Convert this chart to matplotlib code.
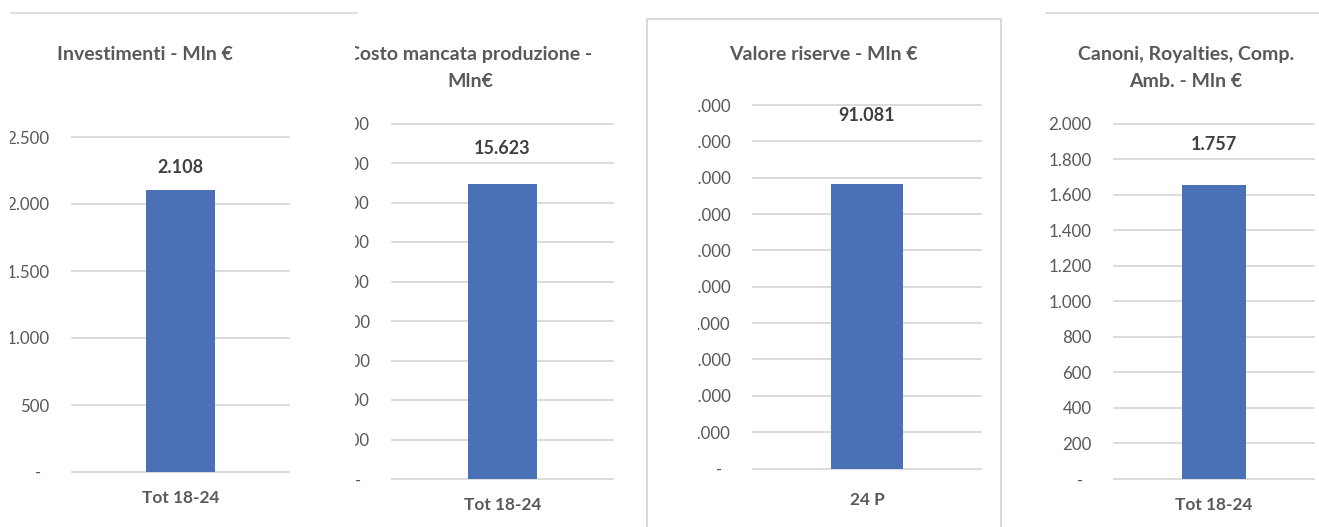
import matplotlib
matplotlib.use("Agg")
import matplotlib.pyplot as plt
from matplotlib.transforms import Bbox, TransformedBbox
from matplotlib.lines import Line2D
from matplotlib.patches import Rectangle

W, H = 1319, 527

# Dati dei quattro grafici
titles = [
    "Investimenti - Mln €",
    "Costo mancata produzione -\nMln€",
    "Valore riserve - Mln €",
    "Canoni, Royalties, Comp.\nAmb. - Mln €",
]
categories = ["Tot 18-24", "Tot 18-24", "24 P", "Tot 18-24"]
bar_values = [2108, 14940, 78270, 1655]
label_values = [2108, 15623, 91081, 1757]
y_max = [2500, 18000, 100000, 2000]
y_step = [500, 2000, 10000, 200]

# Posizioni in pixel: (sinistra, alto, destra, basso) dell'area grafico
axes_px = [(72, 137, 289, 472), (392, 123.5, 613, 479),
           (753, 105, 981, 468.5), (1114, 123.5, 1314, 479)]
title_px = [(145, 55), (470, 68), (823, 55), (1186, 68)]
clip_left = [10, 355, 698, 1000]
xlabel_pad = [13, 13, 17, 13]

BAR = "#4a71b5"
GRID = "#d9d9d9"
TXT = "#595959"
FONT = "Lato"


def fmt(v):
    # Formato contabile italiano
    if v == 0:
        return "-  "
    return f"{v:,.0f}".replace(",", ".")


def fig_rect(l, t, r, b):
    return [l / W, 1 - b / H, (r - l) / W, (b - t) / H]


fig = plt.figure(figsize=(W / 100, H / 100), dpi=100)
fig.patch.set_facecolor("white")

# Bordi dei pannelli
fig.add_artist(Line2D([11 / W, 357 / W], [1 - 12.5 / H] * 2, color=GRID, lw=1.2))
fig.add_artist(Line2D([1046 / W, 1], [1 - 12.5 / H] * 2, color=GRID, lw=1.2))
fig.add_artist(Rectangle((647 / W, -0.05), (1001 - 647) / W, 1.05 - 19 / H,
                         transform=fig.transFigure, fill=False,
                         edgecolor=GRID, lw=1.5))

for i in range(4):
    ax = fig.add_axes(fig_rect(*axes_px[i]))
    ax.bar([categories[i]], [bar_values[i]], width=0.316, color=BAR, zorder=3)
    ax.set_xlim(-0.5, 0.5)
    ax.set_ylim(0, y_max[i])

    ticks = list(range(0, y_max[i] + 1, y_step[i]))
    ax.set_yticks(ticks)
    ax.set_yticklabels([fmt(t) for t in ticks], fontsize=12.2,
                       color=TXT, family=FONT)
    ax.tick_params(axis="y", length=0, pad=16)
    ax.tick_params(axis="x", length=0, pad=xlabel_pad[i])
    for lbl in ax.get_xticklabels():
        lbl.set_fontsize(12.4)
        lbl.set_fontweight("bold")
        lbl.set_color(TXT)
        lbl.set_family(FONT)

    ax.grid(axis="y", color=GRID, lw=1.3, zorder=0)
    ax.set_axisbelow(True)
    for line in ax.get_ygridlines():
        line.set_clip_on(False)
    for s in ax.spines.values():
        s.set_visible(False)
    ax.patch.set_alpha(0)

    # Ritaglio delle etichette tagliate nello screenshot
    clip = TransformedBbox(Bbox([[clip_left[i] / W, 0], [1, 1]]), fig.transFigure)
    for lbl in ax.get_yticklabels():
        lbl.set_clip_box(clip)
        lbl.set_clip_on(True)

    # Etichetta del valore
    ax.annotate(fmt(label_values[i]), (0, label_values[i]), xytext=(0, 22),
                textcoords="offset pixels", ha="center", va="center",
                fontsize=13, fontweight="bold", color="#404040",
                family=FONT, annotation_clip=False)

    t = fig.text(title_px[i][0] / W, 1 - title_px[i][1] / H, titles[i],
                 ha="center", va="center", fontsize=14, fontweight="bold",
                 color=TXT, family=FONT, linespacing=1.7)
    t.set_clip_box(clip)
    t.set_clip_on(True)

fig.savefig("out.png", dpi=100)
